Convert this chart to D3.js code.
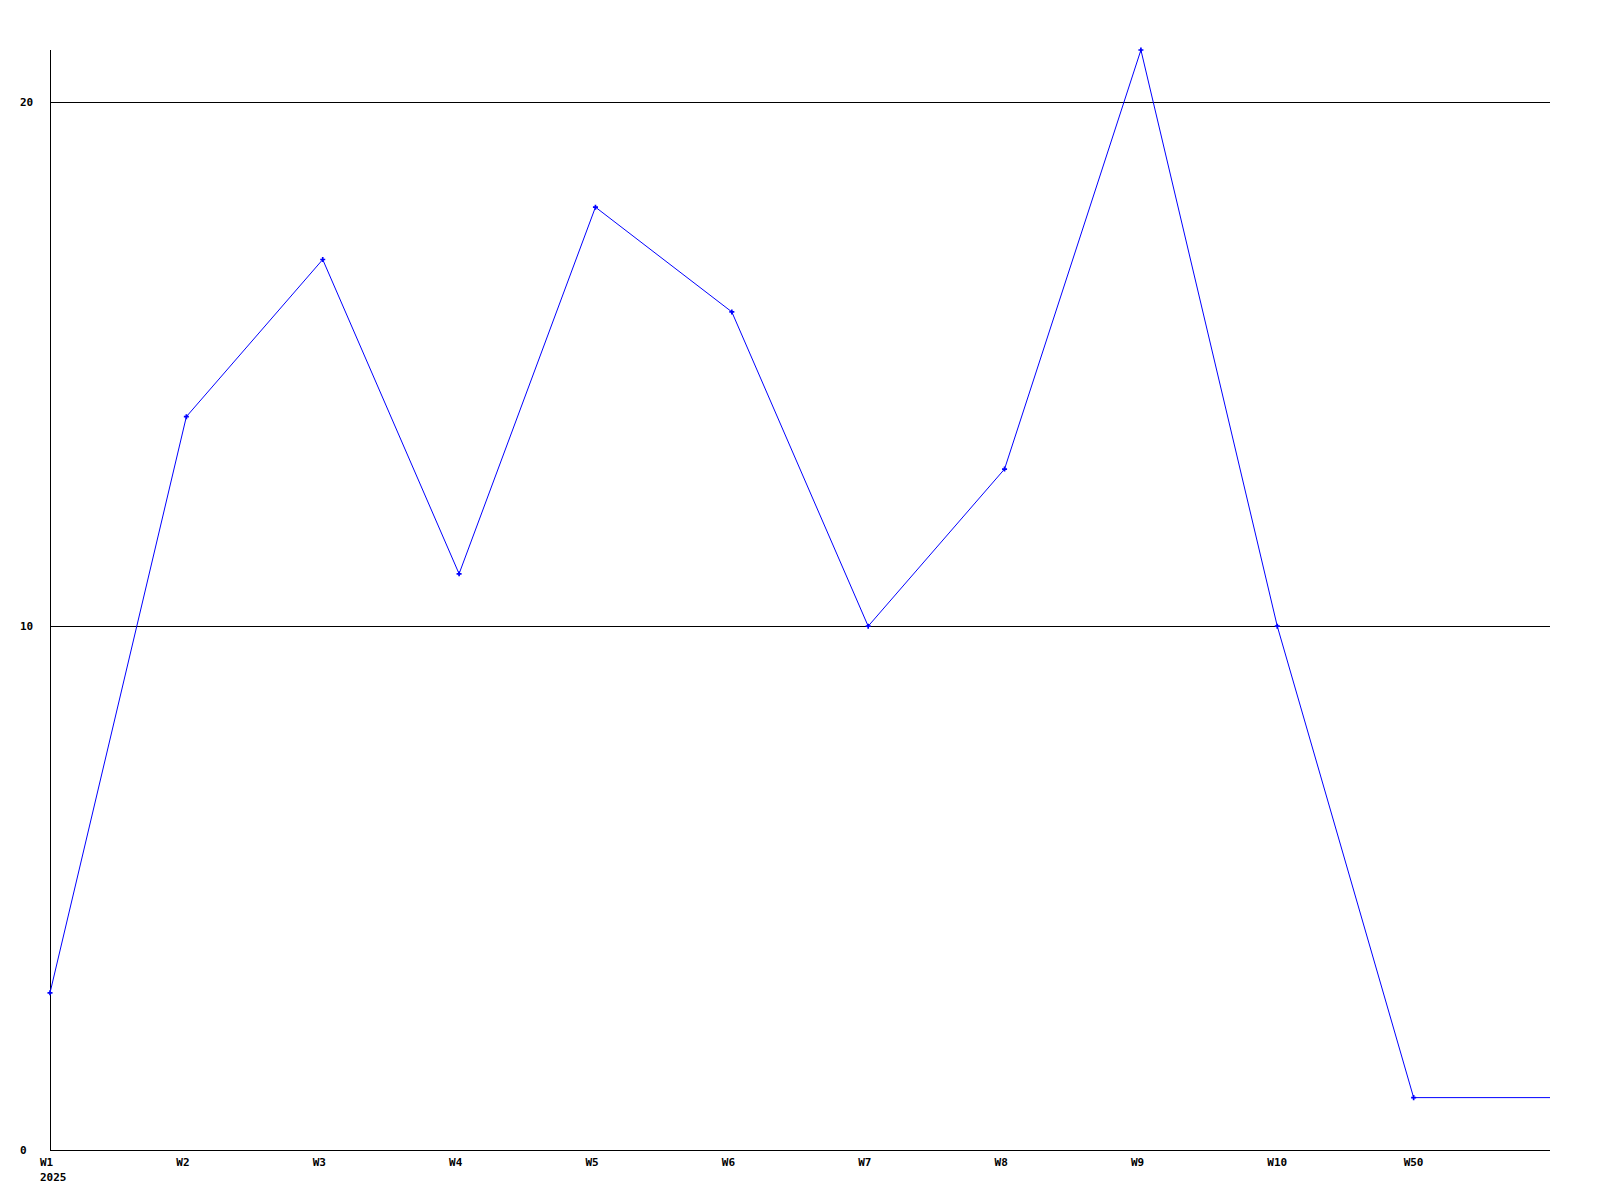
<!DOCTYPE html>
<html><head><meta charset="utf-8">
<script src="https://cdn.jsdelivr.net/npm/d3@7"></script>
<style>body{margin:0;background:#fff}svg{display:block}text{font-family:"DejaVu Sans Mono","Liberation Mono",monospace;font-weight:bold;font-size:11px;fill:#000}</style>
</head><body>
<svg id="c" width="1600" height="1200"></svg>
<script>
const categories = ["W1","W2","W3","W4","W5","W6","W7","W8","W9","W10","W50"];
const values = [3,14,17,11,18,16,10,13,21,10,1];
const yTicks = [0,10,20];
const yearLabel = "2025";

const svg = d3.select("#c");
const mLeft = 50, mRight = 1550, mTop = 50, mBottom = 1150;
const x = d3.scaleLinear().domain([0, categories.length]).range([mLeft, mRight]);
const y = d3.scaleLinear().domain([0, 21]).range([mBottom, mTop]);

// gridlines
svg.append("g").selectAll("line").data(yTicks.filter(d=>d>0)).join("line")
  .attr("x1", mLeft).attr("x2", mRight)
  .attr("y1", d=>Math.round(y(d))+0.5).attr("y2", d=>Math.round(y(d))+0.5)
  .attr("stroke","#000").attr("shape-rendering","crispEdges");
// axes
svg.append("line").attr("x1",mLeft+0.5).attr("x2",mLeft+0.5).attr("y1",mTop).attr("y2",mBottom)
  .attr("stroke","#000").attr("shape-rendering","crispEdges");
svg.append("line").attr("x1",mLeft).attr("x2",mRight).attr("y1",mBottom+0.5).attr("y2",mBottom+0.5)
  .attr("stroke","#000").attr("shape-rendering","crispEdges");

// y labels
svg.append("g").selectAll("text").data(yTicks).join("text")
  .attr("x",20).attr("y",d=>y(d)).attr("dy","0.35em").text(d=>d);
// x labels
svg.append("g").selectAll("text").data(categories).join("text")
  .attr("x",(d,i)=>x(i)-10).attr("y",mBottom+12).attr("dy","0.35em").text(d=>d);
svg.append("text").attr("x",x(0)-10).attr("y",mBottom+27).attr("dy","0.35em").text(yearLabel);

// line
const pts = values.map((v,i)=>[x(i),y(v)]);
pts.push([x(categories.length), y(values[values.length-1])]);
svg.append("path").attr("d", d3.line()(pts)).attr("fill","none").attr("stroke","#0000ff").attr("stroke-width",1);

// markers
svg.append("g").selectAll("path").data(values).join("path")
  .attr("transform",(d,i)=>`translate(${x(i)},${y(d)})`)
  .attr("d", d3.symbol().type(d3.symbolCross).size(14))
  .attr("fill","#0000ff");
</script>
</body></html>
